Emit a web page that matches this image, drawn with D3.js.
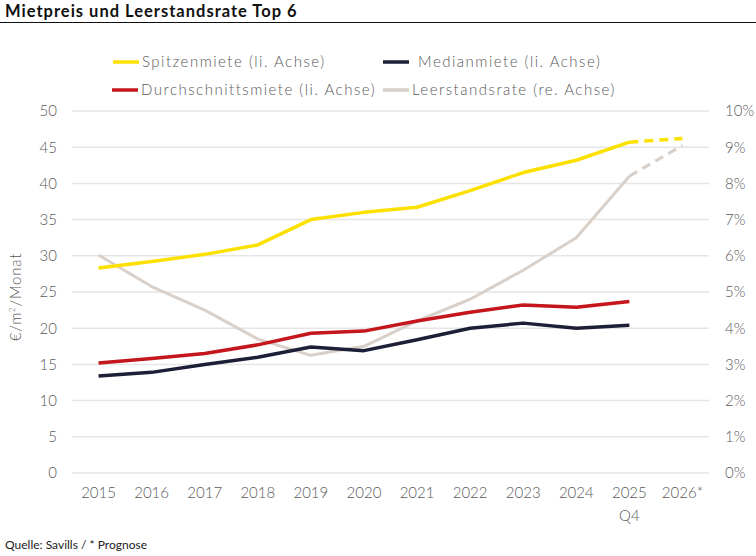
<!DOCTYPE html>
<html>
<head>
<meta charset="utf-8">
<script src="https://cdn.jsdelivr.net/npm/d3@7/dist/d3.min.js"></script>
<style>
  body { margin: 0; background: #fff; overflow: hidden; }
  svg { display: block; }
  svg text { font-family: Lato, "Open Sans", sans-serif; }
</style>
</head>
<body>
<div id="chart"></div>
<script>
/* data */
var years = ["2015", "2016", "2017", "2018", "2019", "2020", "2021", "2022", "2023", "2024", "2025", "2026*"],
    spitzenmiete = [28.3, 29.2, 30.2, 31.5, 35.0, 36.0, 36.7, 39.0, 41.5, 43.2, 45.7, 46.2],
    medianmiete = [13.4, 13.9, 15.0, 16.0, 17.4, 16.9, 18.4, 20.0, 20.7, 20.0, 20.4],
    durchschnittsmiete = [15.2, 15.8, 16.5, 17.7, 19.3, 19.6, 21.0, 22.2, 23.2, 22.9, 23.7],
    leerstandsrate = [6.02, 5.15, 4.5, 3.7, 3.25, 3.5, 4.2, 4.8, 5.6, 6.5, 8.2, 9.05],
    leftTicks = d3.range(0, 51, 5),
    rightTicks = d3.range(0, 11, 1);

/* layout */
var width = 756,
    height = 556,
    margin = {top: 111, right: 47, bottom: 83, left: 72},
    innerWidth = width - margin.left - margin.right,
    innerHeight = height - margin.top - margin.bottom,
    colYellow = "#fbe000",
    colNavy = "#1c1f36",
    colRed = "#c4161c",
    colBeige = "#d8d0c9",
    colText = "#595959",
    colGrid = "#e5e5e5",
    fontW = 300;

var svg = d3.select("#chart")
    .append("svg")
    .attr("width", width)
    .attr("height", height),
    main = svg.append("g")
    .attr("transform", "translate(" + margin.left + "," + margin.top + ")");

/* title */
svg.append("text")
    .attr("x", 5)
    .attr("y", 17)
    .attr("font-size", 16.5)
    .attr("font-weight", "bold")
    .attr("fill", "#111")
    .style("letter-spacing", "1px")
    .text("Mietpreis und Leerstandsrate Top 6");
svg.append("line")
    .attr("x1", 0).attr("x2", width)
    .attr("y1", 22.5).attr("y2", 22.5)
    .attr("stroke", "#111")
    .attr("stroke-width", 1);

/* scales */
var x = d3.scaleBand()
    .domain(years)
    .range([0, innerWidth]),
    y = d3.scaleLinear()
    .domain([0, 50])
    .range([innerHeight, 0]),
    y2 = d3.scaleLinear()
    .domain([0, 10])
    .range([innerHeight, 0]),
    cx = function(i) { return x(years[i]) + x.bandwidth() / 2; };

/* grids */
main.append("g")
    .attr("class", "grids")
    .selectAll("line")
    .data(leftTicks)
    .join("line")
    .attr("x1", 0)
    .attr("x2", innerWidth)
    .attr("y1", d => y(d))
    .attr("y2", d => y(d))
    .attr("stroke", colGrid)
    .attr("stroke-width", 1.5);

/* axes */
var yAxis = d3.axisLeft(y).tickValues(leftTicks).tickSize(0).tickPadding(15),
    y2Axis = d3.axisRight(y2).tickValues(rightTicks).tickSize(0).tickPadding(16)
    .tickFormat(d => d + "%"),
    xAxis = d3.axisBottom(x).tickSize(0).tickPadding(14);

var yG = main.append("g").call(yAxis),
    y2G = main.append("g").attr("transform", "translate(" + innerWidth + ",0)").call(y2Axis),
    xG = main.append("g").attr("transform", "translate(0," + innerHeight + ")").call(xAxis);

[yG, y2G, xG].forEach(function(g) {
    g.select(".domain").remove();
    g.attr("font-family", null).attr("font-size", 15);
    g.selectAll("text")
        .attr("font-size", 15)
        .attr("font-weight", fontW)
        .attr("fill", colText);
});

// second line under 2025
xG.append("text")
    .attr("x", cx(10))
    .attr("y", 37)
    .attr("dy", "0.71em")
    .attr("text-anchor", "middle")
    .attr("font-size", 15)
    .attr("font-weight", fontW)
    .attr("fill", colText)
    .text("Q4");

/* axis title */
svg.append("text")
    .attr("transform", "translate(21," + (margin.top + innerHeight / 2 + 5) + ") rotate(-90)")
    .attr("text-anchor", "middle")
    .attr("font-size", 15)
    .attr("font-weight", fontW)
    .attr("fill", colText)
    .style("letter-spacing", "0.8px")
    .html("€/m<tspan dy='-6' font-size='8'>2</tspan><tspan dy='6'>/Monat</tspan>");

/* lines */
var lineL = d3.line()
    .x(d => cx(d.i))
    .y(d => y(d.v)),
    lineR = d3.line()
    .x(d => cx(d.i))
    .y(d => y2(d.v));

function series(arr) {
    return arr.map((v, i) => ({i: i, v: v}));
}

var lines = main.append("g").attr("class", "lines");

function drawSeries(arr, gen, col, sw, solidEnd) {
    var s = series(arr);
    lines.append("path")
        .datum(s.slice(0, solidEnd + 1))
        .attr("d", gen)
        .attr("fill", "none")
        .attr("stroke", col)
        .attr("stroke-width", sw)
        .attr("stroke-linejoin", "round");
    if (s.length > solidEnd + 1) {
        lines.append("path")
            .datum(s.slice(solidEnd))
            .attr("d", gen)
            .attr("fill", "none")
            .attr("stroke", col)
            .attr("stroke-width", sw)
            .attr("stroke-dasharray", "9,6");
    }
}

drawSeries(leerstandsrate, lineR, colBeige, 3, 10);
drawSeries(spitzenmiete, lineL, colYellow, 3.5, 10);
drawSeries(durchschnittsmiete, lineL, colRed, 3.5, 10);
drawSeries(medianmiete, lineL, colNavy, 3.5, 10);

/* legend */
var legendItems = [
    {label: "Spitzenmiete (li. Achse)", col: colYellow, x: 113, y: 62},
    {label: "Medianmiete (li. Achse)", col: colNavy, x: 383, y: 62},
    {label: "Durchschnittsmiete (li. Achse)", col: colRed, x: 112, y: 90},
    {label: "Leerstandsrate (re. Achse)", col: colBeige, x: 383, y: 90}
];
var lgd = svg.append("g").attr("class", "legend")
    .selectAll("g")
    .data(legendItems)
    .join("g")
    .attr("transform", d => "translate(" + d.x + "," + d.y + ")");
lgd.append("line")
    .attr("x1", 0).attr("x2", 26)
    .attr("stroke", d => d.col)
    .attr("stroke-width", 3.5);
lgd.append("text")
    .attr("x", d => d.label.startsWith("Median") ? 35 : 29)
    .attr("dy", "0.35em")
    .attr("font-size", 15)
    .attr("font-weight", fontW)
    .attr("fill", colText)
    .style("letter-spacing", "1.5px")
    .text(d => d.label);

/* source */
svg.append("text")
    .attr("x", 5)
    .attr("y", 549)
    .attr("font-size", 12)
    .attr("fill", "#222")
    .attr("textLength", 142)
    .attr("lengthAdjust", "spacingAndGlyphs")
    .text("Quelle: Savills / * Prognose");
</script>
</body>
</html>
